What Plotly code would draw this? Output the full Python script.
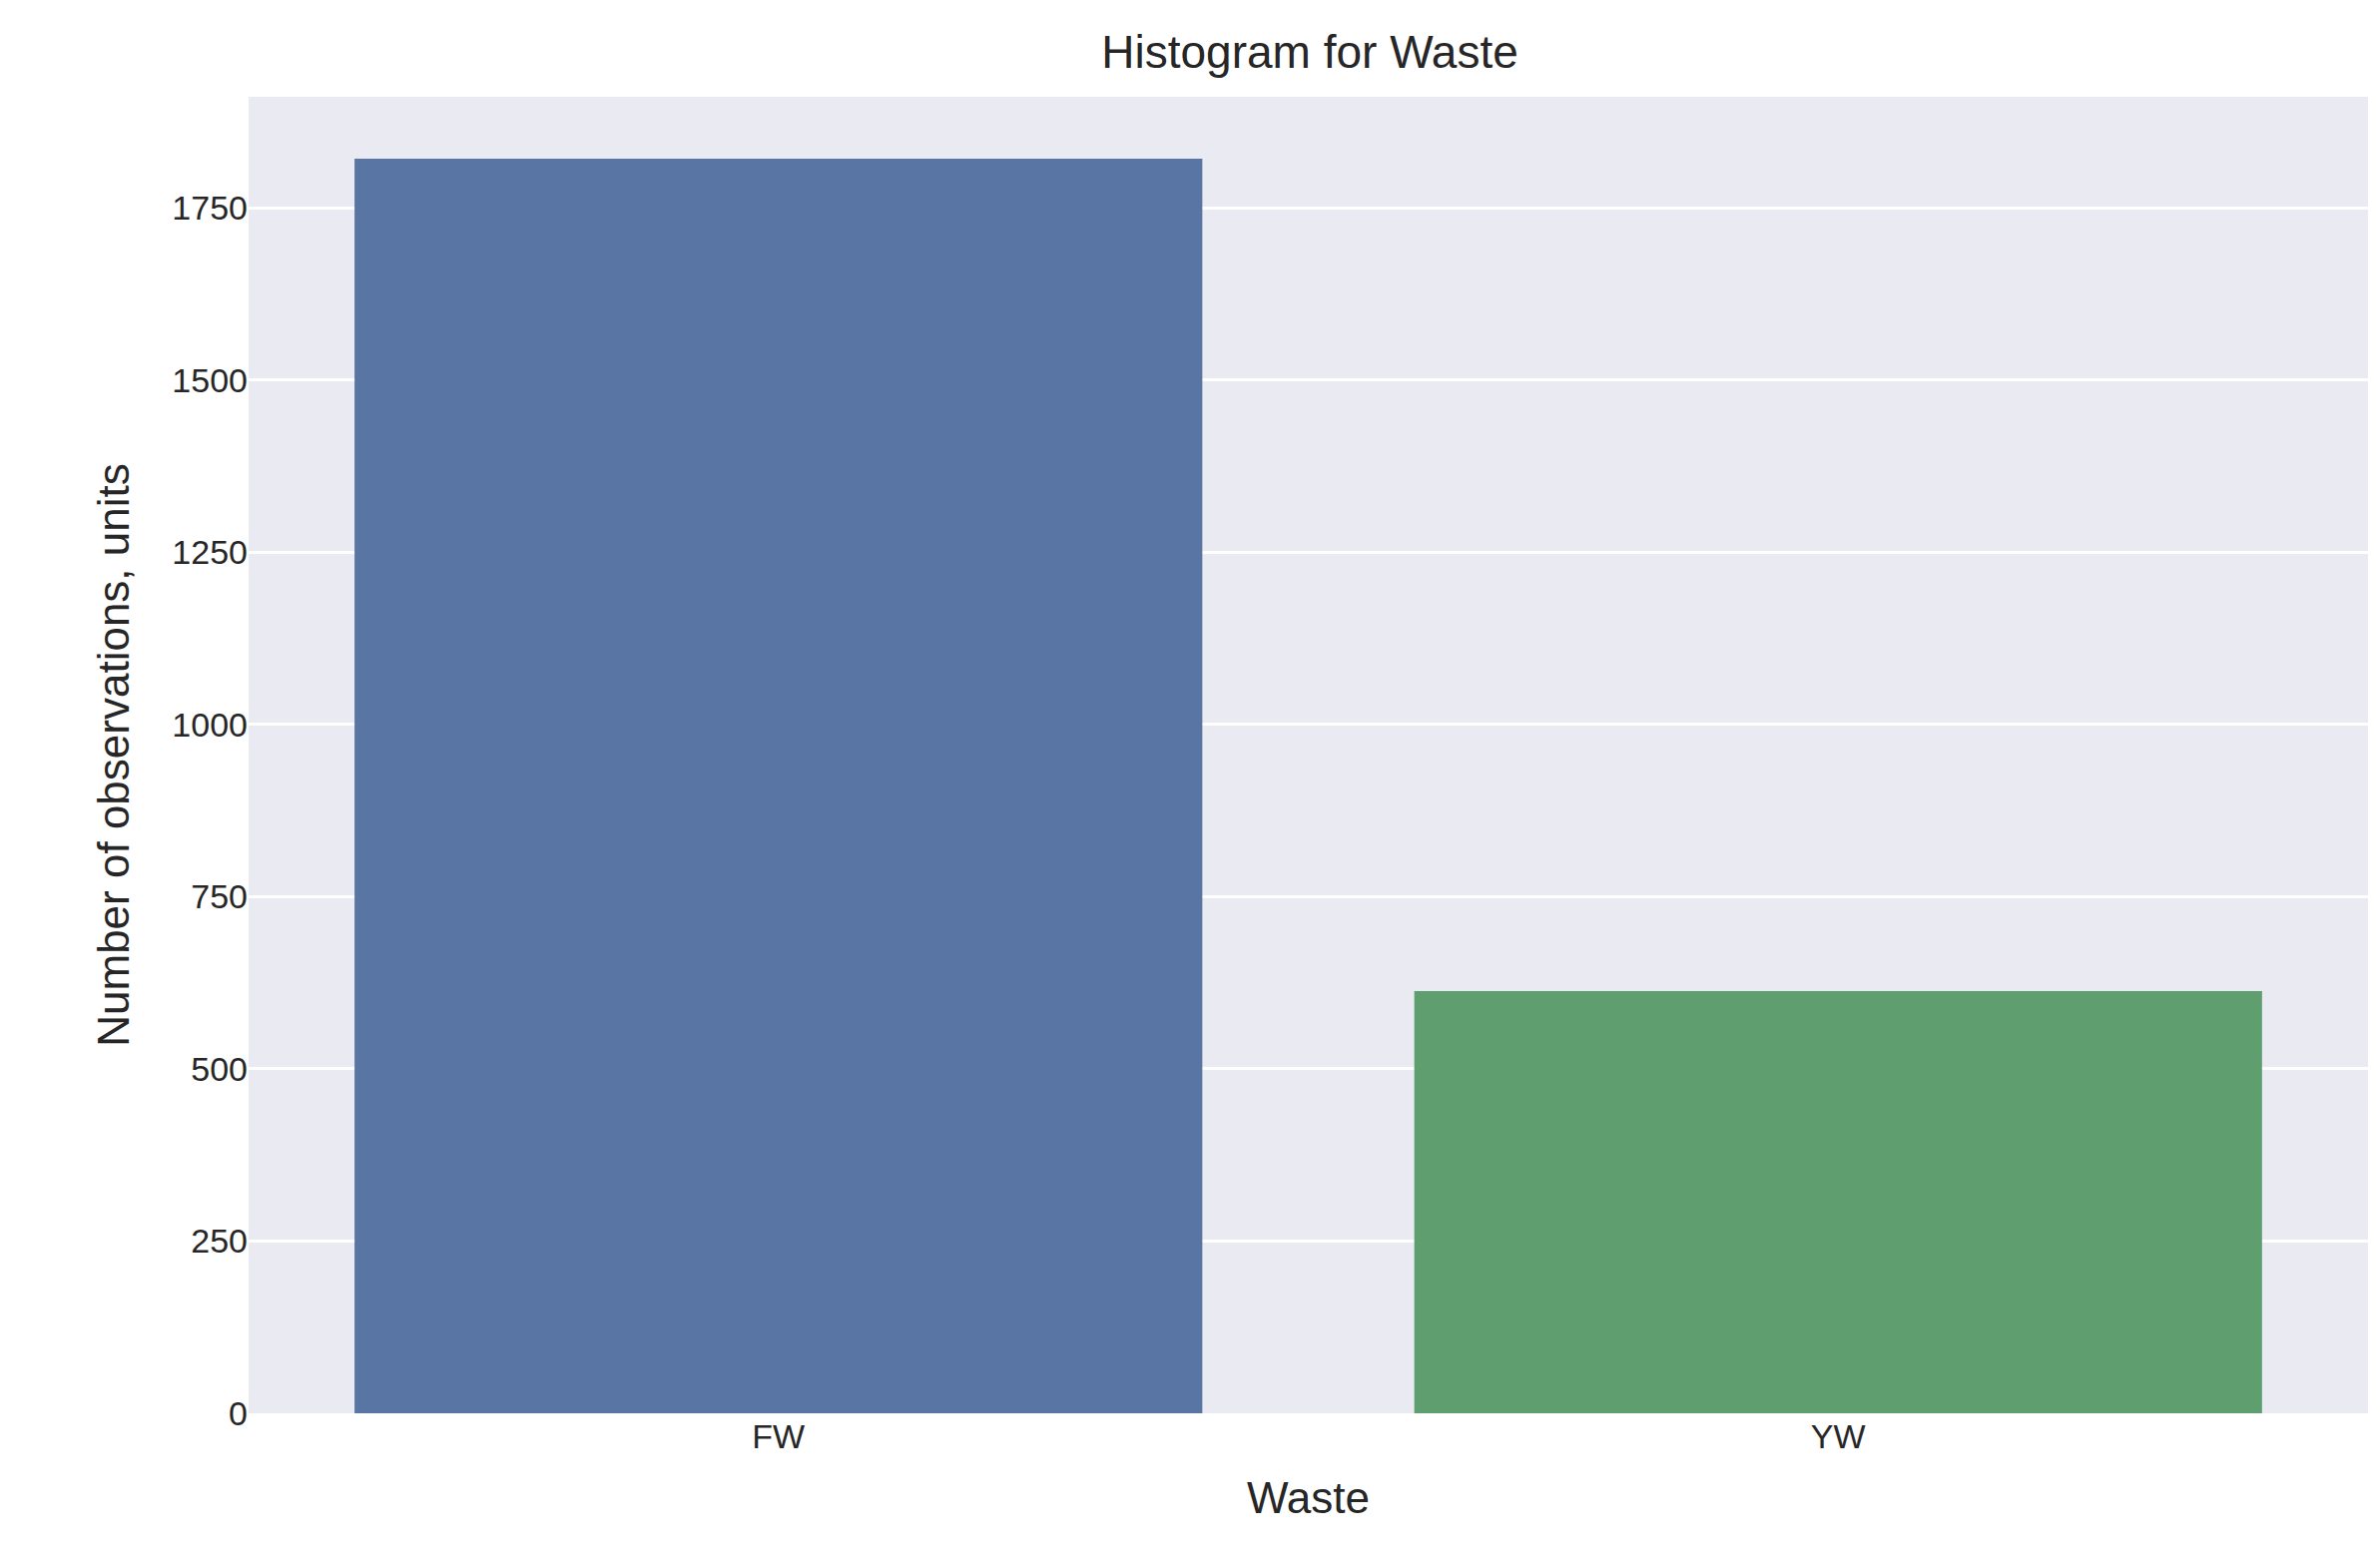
import plotly.graph_objects as go

categories = ["FW", "YW"]
counts = [1821, 613]
colors = ["#5975a4", "#5f9e6e"]

fig = go.Figure(go.Bar(x=categories, y=counts, marker_color=colors, width=0.8, marker_line_width=0))
fig.update_layout(
    width=2384, height=1561,
    margin=dict(l=241, r=20, t=89, b=153),
    paper_bgcolor="white", plot_bgcolor="#eaeaf2",
    font=dict(family="Arial, Liberation Sans", color="#262626", size=34),
    title=dict(text="Histogram for Waste", x=0.547, xanchor="center", y=0.982, yanchor="top", font=dict(size=46)),
    showlegend=False,
)
fig.update_xaxes(title=dict(text="Waste", font=dict(size=44), standoff=28), range=[-0.5, 1.5], showgrid=False, ticks="", tickfont=dict(size=34))
fig.update_yaxes(title=dict(text="Number of observations, units", font=dict(size=44), standoff=28), range=[0, 1911],
                 tickvals=[0, 250, 500, 750, 1000, 1250, 1500, 1750], gridcolor="white", gridwidth=3,
                 zeroline=False, ticks="", tickfont=dict(size=34))
fig.write_html("out.html")
